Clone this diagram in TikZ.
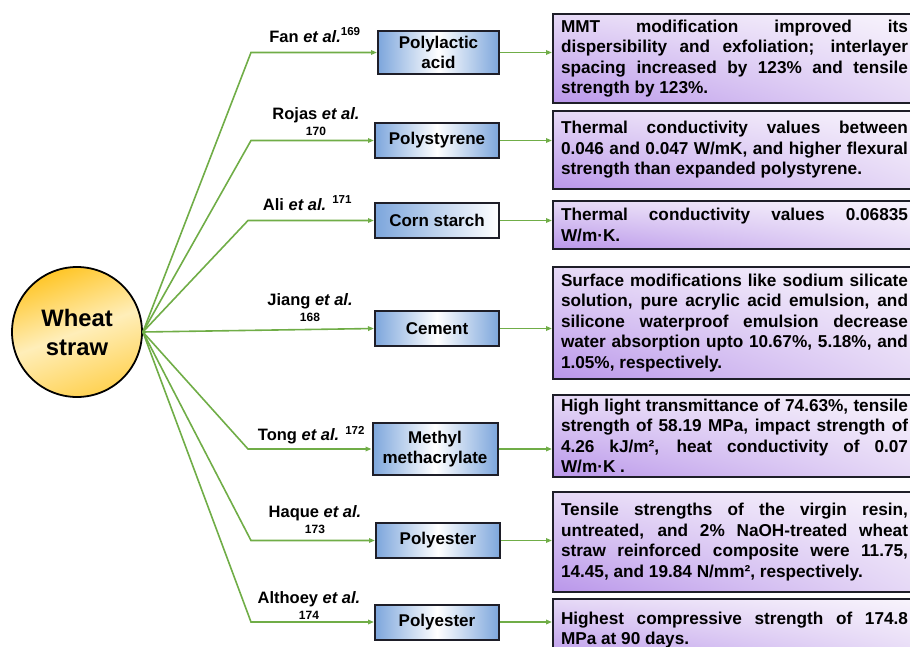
\documentclass[tikz,border=0pt]{standalone}
\usepackage{fontspec}
\setmainfont{Liberation Sans}
\usetikzlibrary{arrows.meta,shadings}
\definecolor{lgreen}{RGB}{112,173,71}
\definecolor{bblue}{RGB}{125,166,220}
\definecolor{boxline}{RGB}{30,30,40}
\definecolor{pdark}{RGB}{185,150,234}
\definecolor{plight}{RGB}{230,217,246}
\definecolor{pwhite}{RGB}{248,244,252}
\definecolor{gold}{RGB}{255,198,40}
\definecolor{gpale}{RGB}{255,238,185}
\hyphenpenalty=10000
\exhyphenpenalty=10000
\begin{document}
\begin{tikzpicture}[x=1pt,y=-1pt,
  conn/.style={draw=lgreen, line width=1.6pt, -{Triangle[length=6pt,width=4.5pt]}},
  mbox/.style={draw=boxline, line width=2pt, left color=bblue, right color=bblue, middle color=white,
    minimum width=124pt, minimum height=35pt, align=center, inner sep=0pt,
    font=\fontsize{17}{20}\selectfont\bfseries},
  rbox/.style={draw=boxline, line width=2pt, lower left=pdark, upper left=plight, lower right=plight, upper right=pwhite,
    anchor=north west, text width=347pt, inner xsep=8pt, inner ysep=2pt, align=justify,
    font=\fontsize{17.2}{20.5}\selectfont\bfseries},
  lab/.style={align=center, inner sep=0pt, font=\fontsize{16.5}{18}\selectfont\bfseries}
]
\useasboundingbox (0,0) rectangle (910,647);

% central circle
\node[circle, draw=black, line width=1.8pt, minimum size=130pt, inner sep=0pt, align=center,
  top color=gold, bottom color=gold!70!gpale, middle color=gpale, shading angle=20,
  font=\fontsize{23.8}{29}\selectfont\bfseries] (ws) at (77,332) {Wheat\\straw};

% material boxes
\node[mbox, minimum width=121pt, minimum height=43pt] (b1) at (438.5,52.5) {Polylactic\\acid};
\node[mbox] (b2) at (437,140.5) {Polystyrene};
\node[mbox, left color=bblue, right color=white] (b3) at (437,220.5) {Corn starch};
\node[mbox] (b4) at (437,328.5) {Cement};
\node[mbox, minimum width=125pt, minimum height=52pt] (b5) at (435,449) {Methyl\\methacrylate};
\node[mbox] (b6) at (438,540.5) {Polyester};
\node[mbox] (b7) at (437,622) {Polyester};

% result boxes
\node[rbox, minimum height=89pt] (r1) at (552,13) {MMT modification improved its\linebreak dispersibility and exfoliation; interlayer\linebreak spacing increased by 123\% and tensile\linebreak strength by 123\%.};
\node[rbox, minimum height=78pt] (r2) at (552,110) {Thermal conductivity values between\linebreak 0.046 and 0.047 W/mK, and higher flexural\linebreak strength than expanded polystyrene.};
\node[rbox, minimum height=48pt] (r3) at (552,200) {Thermal conductivity values 0.06835\linebreak W/m·K.};
\node[rbox, minimum height=112pt] (r4) at (552,266) {Surface modifications like sodium silicate\linebreak solution, pure acrylic acid emulsion, and\linebreak silicone waterproof emulsion decrease\linebreak water absorption upto 10.67\%, 5.18\%, and\linebreak 1.05\%, respectively.};
\node[rbox, minimum height=82pt] (r5) at (552,394) {High light transmittance of 74.63\%, tensile\linebreak strength of 58.19 MPa, impact strength of\linebreak 4.26 kJ/m², heat conductivity of 0.07\linebreak W/m·K .};
\node[rbox, minimum height=100pt] (r6) at (552,491) {Tensile strengths of the virgin resin,\linebreak untreated, and 2\% NaOH-treated wheat\linebreak straw reinforced composite were 11.75,\linebreak 14.45, and 19.84 N/mm², respectively.};
\node[rbox, minimum height=62pt] (r7) at (552,598) {Highest compressive strength of 174.8\linebreak MPa at 90 days.};

% bend points
\coordinate (c1) at (251,52.5);
\coordinate (c2) at (251,140.5);
\coordinate (c3) at (248,220.5);
\coordinate (c5) at (248,449);
\coordinate (c6) at (251,540.5);
\coordinate (c7) at (251,622);

% connectors from circle
\draw[conn] (ws.east) -- (c1) -- (b1.west);
\draw[conn] (ws.east) -- (c2) -- (b2.west);
\draw[conn] (ws.east) -- (c3) -- (b3.west);
\draw[conn] (ws.east) -- (b4.west);
\draw[conn] (ws.east) -- (c5) -- (b5.west);
\draw[conn] (ws.east) -- (c6) -- (b6.west);
\draw[conn] (ws.east) -- (c7) -- (b7.west);

% connectors to result boxes
\draw[conn] (b1.east) -- (b1.east -| r1.west);
\draw[conn] (b2.east) -- (b2.east -| r2.west);
\draw[conn] (b3.east) -- (b3.east -| r3.west);
\draw[conn] (b4.east) -- (b4.east -| r4.west);
\draw[conn] (b5.east) -- (b5.east -| r5.west);
\draw[conn] (b6.east) -- (b6.east -| r6.west);
\draw[conn] (b7.east) -- (b7.east -| r7.west);

% reference labels
\node[lab] (l1) at (315,35) {Fan \textit{et al.}\textsuperscript{169}};
\node[lab] (l2) at (316,122) {Rojas \textit{et al.}\\[-2pt]{\fontsize{12}{14}\selectfont 170}};
\node[lab] (l3) at (307.5,203) {Ali \textit{et al.} \textsuperscript{171}};
\node[lab] (l4) at (310,308) {Jiang \textit{et al.}\\[-2pt]{\fontsize{12}{14}\selectfont 168}};
\node[lab] (l5) at (311.5,435) {Tong \textit{et al.} \textsuperscript{172}};
\node[lab] (l6) at (315,520) {Haque \textit{et al.}\\[-2pt]{\fontsize{12}{14}\selectfont 173}};
\node[lab] (l7) at (309,606) {Althoey \textit{et al.}\\[-2pt]{\fontsize{12}{14}\selectfont 174}};
\end{tikzpicture}
\end{document}
